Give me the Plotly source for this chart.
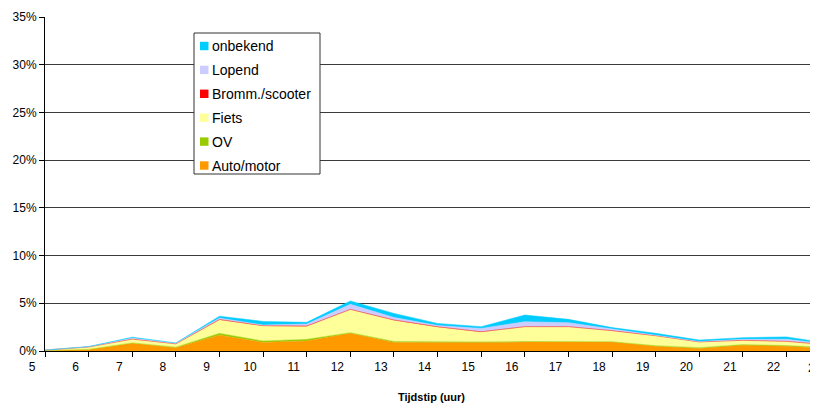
import plotly.graph_objects as go

hours = list(range(5, 24))
tick_labels = [str(h) for h in hours]

auto_motor = [0.05, 0.15, 0.80, 0.35, 1.65, 0.90, 1.05, 1.85, 0.90, 0.87, 0.90, 0.94, 0.94, 0.94, 0.50, 0.25, 0.60, 0.50, 0.25]
ov         = [0.00, 0.02, 0.05, 0.05, 0.20, 0.15, 0.17, 0.07, 0.10, 0.07, 0.05, 0.05, 0.03, 0.03, 0.06, 0.10, 0.07, 0.07, 0.08]
fiets      = [0.05, 0.25, 0.40, 0.35, 1.43, 1.58, 1.38, 2.42, 2.23, 1.58, 1.05, 1.54, 1.56, 1.14, 1.03, 0.60, 0.45, 0.44, 0.30]
bromm      = [0.00, 0.00, 0.00, 0.00, 0.02, 0.02, 0.02, 0.02, 0.02, 0.02, 0.02, 0.02, 0.02, 0.02, 0.01, 0.00, 0.00, 0.00, 0.00]
lopend     = [0.00, 0.02, 0.10, 0.05, 0.15, 0.07, 0.21, 0.53, 0.27, 0.13, 0.35, 0.52, 0.42, 0.17, 0.08, 0.05, 0.10, 0.22, 0.05]
onbekend   = [0.00, 0.03, 0.10, 0.05, 0.20, 0.38, 0.17, 0.35, 0.42, 0.22, 0.18, 0.70, 0.35, 0.15, 0.17, 0.15, 0.18, 0.25, 0.10]

# stacking order, bottom to top
series_names = ["Auto/motor", "OV", "Fiets", "Bromm./scooter", "Lopend", "onbekend"]
series_values = [auto_motor, ov, fiets, bromm, lopend, onbekend]
series_colors = ["#FF9900", "#99CC00", "#FFFF99", "#FF0000", "#CCCCFF", "#00CCFF"]

y_ticks = [0, 5, 10, 15, 20, 25, 30, 35]

FONT = "Liberation Sans, Arial, sans-serif"

fig = go.Figure()
for name, vals, col in zip(series_names, series_values, series_colors):
    fig.add_trace(go.Scatter(
        x=hours, y=vals, name=name, mode="lines",
        stackgroup="one", line=dict(width=0.5, color=col),
        fillcolor=col, showlegend=False,
    ))

X_MIN, X_MAX = 5, 22.72
OFF = 8  # page body offset
W, H = 818 - OFF, 405 - OFF
ML, MR, MT, MB = 45 - OFF, 0, 17 - OFF, 54
pw = W - ML - MR
ph = H - MT - MB

def px_x(p):
    return (p - OFF - ML) / pw

def px_y(p):
    return (H - MB - (p - OFF)) / ph

shapes = []
annotations = []
# legend box
shapes.append(dict(type="rect", xref="paper", yref="paper", layer="above",
                   x0=px_x(194), x1=px_x(320), y0=px_y(174), y1=px_y(33),
                   line=dict(color="#333333", width=1), fillcolor="white"))
legend_order = list(zip(series_names, series_colors))[::-1]
for i, (name, col) in enumerate(legend_order):
    cy = 46 + 23.9 * i
    shapes.append(dict(type="rect", xref="paper", yref="paper", layer="above",
                       x0=px_x(200), x1=px_x(208.5), y0=px_y(cy + 4.2), y1=px_y(cy - 4.2),
                       line=dict(width=0), fillcolor=col))
    annotations.append(dict(xref="paper", yref="paper", x=px_x(210), y=px_y(cy),
                            xanchor="left", yanchor="middle", showarrow=False,
                            text=name, font=dict(family=FONT, size=14, color="black")))

# partially visible last tick label
annotations.append(dict(xref="paper", yref="paper",
                        x=(hours[-1] - X_MIN) / (X_MAX - X_MIN), y=0,
                        xanchor="center", yanchor="top", xshift=-15, yshift=-8,
                        showarrow=False, text=tick_labels[-1],
                        font=dict(family=FONT, size=12, color="black")))

fig.update_layout(
    width=W, height=H,
    margin=dict(l=ML, r=MR, t=MT, b=MB, pad=0),
    paper_bgcolor="white", plot_bgcolor="white",
    font=dict(family=FONT, size=12, color="black"),
    showlegend=False,
    shapes=shapes, annotations=annotations,
    xaxis=dict(
        range=[X_MIN, X_MAX], tickmode="array", tickvals=hours, ticktext=tick_labels,
        showgrid=False, zeroline=False, showline=True, linecolor="black", linewidth=1,
        ticks="outside", ticklen=5, tickcolor="black", ticklabelshift=-13,
        tickfont=dict(family=FONT, size=12, color="black"),
        title=dict(text="Tijdstip (uur)", standoff=19,
                   font=dict(family=FONT, size=11, color="black", weight="bold")),
    ),
    yaxis=dict(
        range=[0, 35], tickmode="array", tickvals=y_ticks,
        ticktext=[f"{v}%" for v in y_ticks],
        showgrid=True, gridcolor="#3a3a3a", gridwidth=1, zeroline=False,
        showline=True, linecolor="black", linewidth=1,
        ticks="outside", ticklen=5, tickcolor="black",
        tickfont=dict(family=FONT, size=12, color="black"),
    ),
)

fig.write_html("out.html")
